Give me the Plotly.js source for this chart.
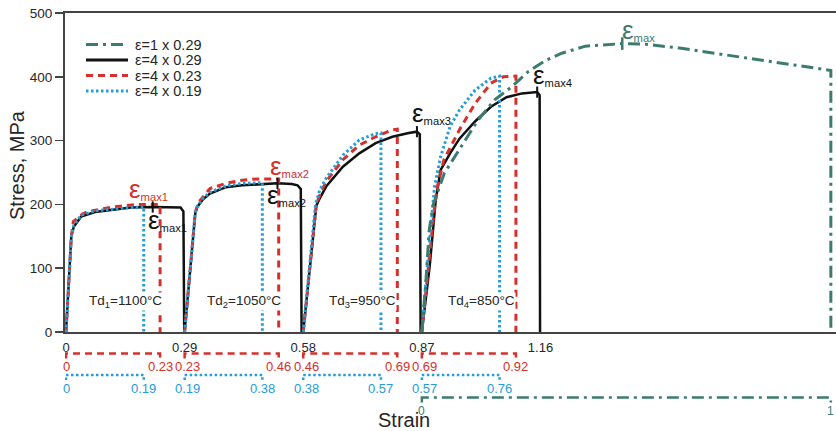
<!DOCTYPE html>
<html>
<head>
<meta charset="utf-8">
<script src="https://cdn.plot.ly/plotly-3.0.1.min.js"></script>
<style>
  html, body { margin: 0; padding: 0; background: #fff; }
  #chart { width: 836px; height: 431px; }
</style>
</head>
<body>
<div id="chart"></div>
<script>
// Cumulative strain at which each of the four passes begins
const passStart = [0, 0.29, 0.58, 0.87];
// Single-pass test starts together with the fourth pass
const singleStart = 0.87;

// ε = 4 x 0.29 (local strain within each pass, stress in MPa)
const blackStrain = [
  [0, 0.013, 0.019, 0.037, 0.071, 0.115, 0.159, 0.212, 0.262, 0.280, 0.287, 0.289],
  [0, 0.012, 0.026, 0.031, 0.045, 0.062, 0.101, 0.141, 0.188, 0.227, 0.262, 0.276, 0.284, 0.286],
  [0, 0.016, 0.032, 0.040, 0.056, 0.097, 0.137, 0.177, 0.218, 0.258, 0.278, 0.285, 0.287],
  [0, 0.019, 0.034, 0.046, 0.069, 0.092, 0.130, 0.169, 0.207, 0.245, 0.282, 0.288, 0.289]
];
const blackStress = [
  [0, 150, 165, 181, 188, 192, 195, 196, 196, 195, 189, 0],
  [0, 88, 186, 196, 208, 217, 227, 230, 232, 233, 232, 230, 224, 0],
  [0, 100, 198, 209, 228, 259, 280, 296, 306, 312, 314, 310, 0],
  [0, 102, 207, 254, 280, 303, 330, 353, 368, 374, 376, 371, 0]
];

// ε = 4 x 0.23
const redStrain = [
  [0, 0.013, 0.018, 0.040, 0.055, 0.115, 0.175, 0.23, 0.23],
  [0, 0.012, 0.026, 0.035, 0.062, 0.101, 0.141, 0.180, 0.219, 0.23, 0.23],
  [0, 0.016, 0.032, 0.040, 0.056, 0.097, 0.137, 0.177, 0.218, 0.23, 0.23],
  [0, 0.017, 0.030, 0.038, 0.054, 0.092, 0.130, 0.169, 0.199, 0.23, 0.23]
];
const redStress = [
  [0, 150, 173, 185, 189, 196, 200, 200, 0],
  [0, 90, 188, 204, 225, 233, 238, 240, 240, 240, 0],
  [0, 100, 200, 214, 236, 270, 293, 306, 317, 318, 0],
  [0, 105, 190, 228, 270, 317, 358, 390, 400, 401, 0]
];

// ε = 4 x 0.19
const blueStrain = [
  [0, 0.013, 0.019, 0.037, 0.071, 0.115, 0.159, 0.19, 0.19],
  [0, 0.012, 0.026, 0.031, 0.045, 0.062, 0.101, 0.141, 0.184, 0.19, 0.19],
  [0, 0.016, 0.030, 0.040, 0.056, 0.097, 0.137, 0.177, 0.19, 0.19],
  [0, 0.014, 0.031, 0.046, 0.069, 0.092, 0.130, 0.169, 0.19, 0.19]
];
const blueStress = [
  [0, 150, 167, 183, 190, 193, 195, 196, 0],
  [0, 90, 187, 197, 210, 219, 229, 233, 234, 234, 0],
  [0, 105, 200, 222, 241, 277, 301, 311, 312, 0],
  [0, 110, 228, 275, 322, 348, 379, 398, 401, 0]
];

// ε = 1 x 0.29 (single deformation)
const greenStrain = [0, 0.010, 0.018, 0.028, 0.055, 0.096, 0.137, 0.178, 0.219, 0.260, 0.301,
                     0.342, 0.400, 0.490, 0.548, 0.630, 0.712, 0.794, 0.876, 0.958, 1.0, 1.0];
const greenStress = [0, 80, 160, 200, 249, 290, 332, 364, 384, 408, 425,
                     437, 448, 452, 451, 445, 437, 429, 421, 413, 410, 0];

// Peak-strain markers
const emaxLocal = [0.212, 0.227, 0.278, 0.282];
const emaxStress = [196, 233, 314, 376];
const greenEmaxLocal = [0.49];
const greenEmaxStress = [452];

// Axis ticks
const xTickVals = [0, 0.29, 0.58, 0.87, 1.16];
const xTickText = ['0', '0.29', '0.58', '0.87', '1.16'];
const yTickVals = [0, 100, 200, 300, 400, 500];

// Per-pass strain scales drawn under the axis
const redPass = 0.23;
const bluePass = 0.19;
const greenPass = 1;
const redScaleText = [['0', '0.23'], ['0.23', '0.46'], ['0.46', '0.69'], ['0.69', '0.92']];
const blueScaleText = [['0', '0.19'], ['0.19', '0.38'], ['0.38', '0.57'], ['0.57', '0.76']];
const greenScaleText = ['0', '1'];

// Deformation temperatures of the passes
const tempLabels = ['Td<sub>1</sub>=1100°C', 'Td<sub>2</sub>=1050°C', 'Td<sub>3</sub>=950°C', 'Td<sub>4</sub>=850°C'];

const legendLabels = ['ε=1 x 0.29', 'ε=4 x 0.29', 'ε=4 x 0.23', 'ε=4 x 0.19'];

const C = {
  green: '#3d7b6f',
  black: '#111111',
  red: '#d7302c',
  blue: '#259dd6',
  axis: '#444444',
  text: '#262626'
};
const DASH = {
  green: '12px,5px,3px,5px',
  red: '7px,5px',
  blue: '2.5px,2.5px'
};
const FONT = 'Liberation Sans, Arial, Helvetica, sans-serif';

// Lay the passes end to end on the cumulative strain axis
function joinPasses(strains, stresses) {
  const x = [], y = [];
  strains.forEach((s, k) => {
    s.forEach((v, i) => { x.push(passStart[k] + v); y.push(stresses[k][i]); });
    if (k < strains.length - 1) { x.push(null); y.push(null); }
  });
  return { x, y };
}

const black = joinPasses(blackStrain, blackStress);
const red = joinPasses(redStrain, redStress);
const blue = joinPasses(blueStrain, blueStress);

const traces = [
  { x: black.x, y: black.y, name: legendLabels[1], mode: 'lines',
    line: { color: C.black, width: 2.5 } },
  { x: red.x, y: red.y, name: legendLabels[2], mode: 'lines',
    line: { color: C.red, width: 3, dash: DASH.red } },
  { x: blue.x, y: blue.y, name: legendLabels[3], mode: 'lines',
    line: { color: C.blue, width: 3, dash: DASH.blue } },
  { x: greenStrain.map(v => singleStart + v), y: greenStress, name: legendLabels[0], mode: 'lines',
    line: { color: C.green, width: 3, dash: DASH.green } },
  { x: emaxLocal.map((v, k) => passStart[k] + v), y: emaxStress, mode: 'markers',
    marker: { symbol: 'line-ns', size: 8, line: { width: 2, color: C.black } } },
  { x: greenEmaxLocal.map(v => singleStart + v), y: greenEmaxStress, mode: 'markers',
    marker: { symbol: 'line-ns', size: 9, line: { width: 2.5, color: C.green } } }
];
traces.forEach(t => { t.showlegend = false; t.hoverinfo = 'skip'; });

// Plot area spans y pixels 13..332, so paper units per pixel:
const PLOT_H = 319;
const py = p => (332 - p) / PLOT_H;   // pixel row -> paper y
const px = p => (p - 65) / 771;       // pixel column -> paper x

const shapes = [];
const annotations = [];

// Bracketed strain scales below the axis
function scale(x0, x1, rowPx, color, dash, texts, fontSize, shiftStart, labelGap) {
  const yl = py(rowPx), yt = py(rowPx + 5);
  shapes.push({
    type: 'path', xref: 'x', yref: 'paper',
    path: `M ${x0},${yt} L ${x0},${yl} L ${x1},${yl} L ${x1},${yt}`,
    line: { color, width: 2.5, dash }
  });
  [x0, x1].forEach((xv, i) => {
    annotations.push({
      xref: 'x', yref: 'paper', x: xv, y: py(rowPx + labelGap), text: texts[i],
      showarrow: false, xanchor: 'center', yanchor: 'middle',
      xshift: (i === 0 && shiftStart) ? 3 : 0,
      font: { family: FONT, size: fontSize, color }
    });
  });
}
passStart.forEach((s, k) => {
  scale(s, s + redPass, 353.5, C.red, DASH.red, redScaleText[k], 13, k > 0, 13);
  scale(s, s + bluePass, 375, C.blue, DASH.blue, blueScaleText[k], 13, k > 0, 13);
});
scale(singleStart, singleStart + greenPass, 397.5, C.green, DASH.green, greenScaleText, 12, false, 13);

// Legend drawn as sample lines with labels
const legendRows = [44.5, 60, 75.5, 91];
const legendStyle = [
  { color: C.green, dash: DASH.green },
  { color: C.black, dash: 'solid' },
  { color: C.red, dash: DASH.red },
  { color: C.blue, dash: DASH.blue }
];
legendRows.forEach((r, i) => {
  shapes.push({ type: 'line', xref: 'paper', yref: 'paper',
    x0: px(86), x1: px(128), y0: py(r), y1: py(r),
    line: { color: legendStyle[i].color, width: 3, dash: legendStyle[i].dash } });
  annotations.push({ xref: 'paper', yref: 'paper', x: px(133), y: py(r),
    text: legendLabels[i], showarrow: false, xanchor: 'left', yanchor: 'middle',
    font: { family: FONT, size: 14.5, color: C.text } });
});

// Peak strain labels
function emaxLabel(x, y, sub, color) {
  annotations.push({ xref: 'x', yref: 'y', x, y, showarrow: false,
    xanchor: 'left', yanchor: 'middle',
    text: `<span style="font-size:26px">ε</span><sub>${sub}</sub>`,
    font: { family: FONT, size: 16, color } });
}
emaxLabel(0.149, 224, 'max1', C.red);
emaxLabel(0.195, 175, 'max1', C.black);
emaxLabel(0.493, 260, 'max2', C.red);
emaxLabel(0.486, 215, 'max2', C.black);
emaxLabel(0.840, 343, 'max3', C.black);
emaxLabel(1.138, 403, 'max4', C.black);
emaxLabel(1.355, 473, 'max', C.green);

// Temperature labels centred in each pass, on a white backing over the curves
tempLabels.forEach((t, k) => {
  annotations.push({ xref: 'x', yref: 'y', x: passStart[k] + 0.145, y: 48,
    text: t, showarrow: false, xanchor: 'center', yanchor: 'middle',
    bgcolor: '#ffffff', borderpad: 0,
    font: { family: FONT, size: 13.5, color: C.text } });
});

// Axis titles
annotations.push({ xref: 'paper', yref: 'paper', x: px(404), y: py(420),
  text: 'Strain', showarrow: false, xanchor: 'center', yanchor: 'middle',
  font: { family: FONT, size: 20, color: C.text } });
annotations.push({ xref: 'paper', yref: 'paper', x: px(17), y: py(165),
  text: 'Stress, MPa', textangle: -90, showarrow: false, xanchor: 'center', yanchor: 'middle',
  font: { family: FONT, size: 20, color: C.text } });

const layout = {
  width: 836, height: 431,
  margin: { l: 65, r: 0, t: 13, b: 99 },
  paper_bgcolor: '#fff', plot_bgcolor: '#fff',
  showlegend: false,
  font: { family: FONT, color: C.text },
  xaxis: {
    range: [-0.0025, 1.8826], showgrid: false, zeroline: false,
    showline: true, linecolor: C.axis, linewidth: 2, mirror: true,
    tickvals: xTickVals, ticktext: xTickText, ticks: '',
    ticklabelstandoff: 2,
    tickfont: { family: FONT, size: 13, color: C.text }
  },
  yaxis: {
    range: [0, 500], showgrid: false, zeroline: false,
    showline: true, linecolor: C.axis, linewidth: 2,
    tickvals: yTickVals, ticks: 'outside', ticklen: 8, tickwidth: 1.5, tickcolor: C.axis,
    tickfont: { family: FONT, size: 13.5, color: C.text }
  },
  shapes, annotations
};

Plotly.newPlot('chart', traces, layout, { staticPlot: true, displayModeBar: false });
</script>
</body>
</html>
